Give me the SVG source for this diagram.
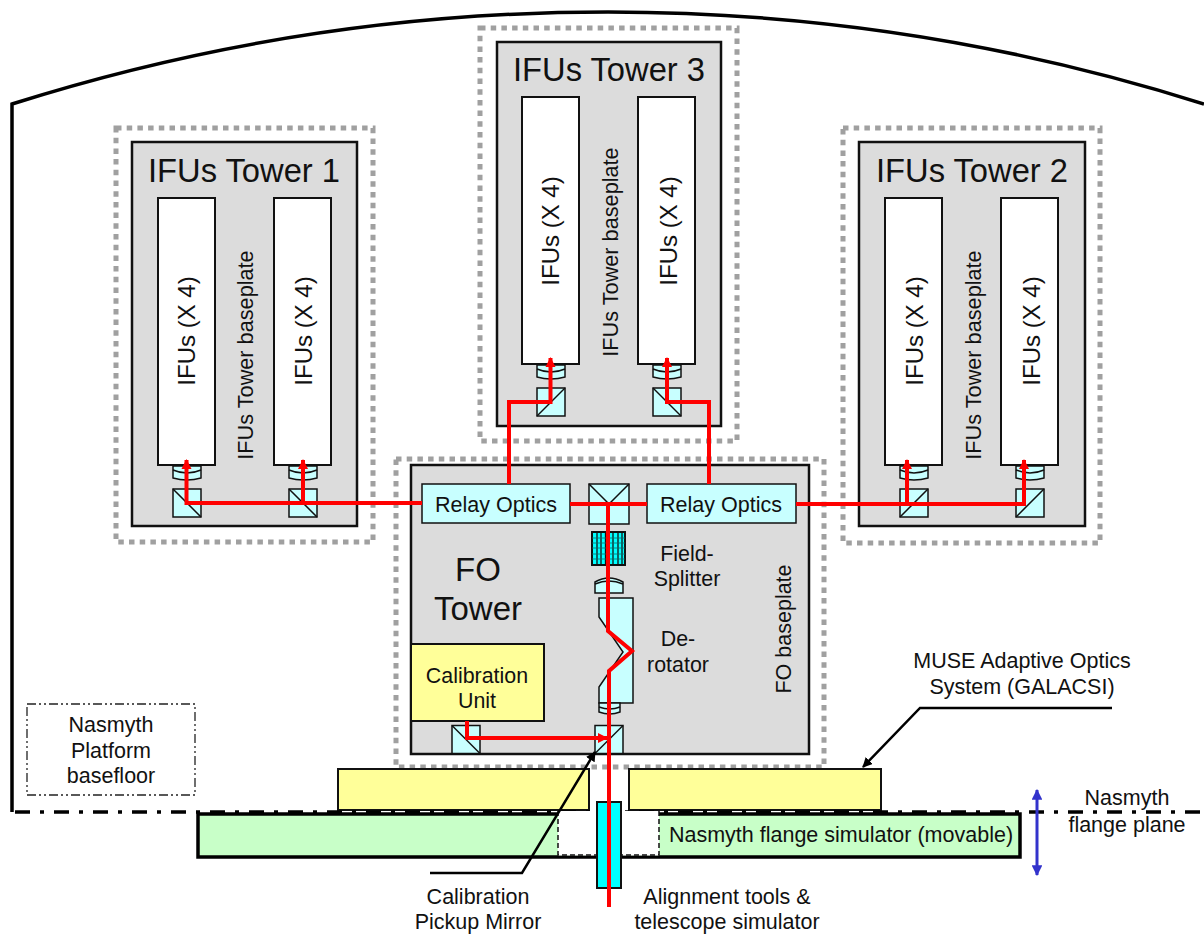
<svg xmlns="http://www.w3.org/2000/svg" width="1204" height="934" viewBox="0 0 1204 934">
<style>
text{font-family:"Liberation Sans",Arial,sans-serif;fill:#111;text-anchor:middle}
.dot{fill:none;stroke:#a0a0a0;stroke-width:5;stroke-dasharray:5.5 5.2}
.panel{fill:#dcdcdc;stroke:#111;stroke-width:2.5}
.ifu{fill:#fff;stroke:#111;stroke-width:2}
.cy{fill:#c8ffff;stroke:#111;stroke-width:1.5}
.yl{fill:#ffff99;stroke:#111;stroke-width:2}
.thin{fill:none;stroke:#111;stroke-width:1.5}
.r{fill:none;stroke:#f00;stroke-width:4}
.k{fill:none;stroke:#000;stroke-width:2.5}
.t31{font-size:32.700px}.t24{font-size:24px}.t22{font-size:21.700px}.t20{font-size:21.400px}.t21{font-size:21.500px}.t32{font-size:33px}
</style>
<defs>
<g id="lens"><path class="cy" d="M-14 0H14V12Q0 16-14 12Z"/><path class="thin" d="M-14 4Q0 10 14 4"/></g>
<g id="cubeA"><rect class="cy" x="-14" y="-14" width="28" height="28"/><path class="thin" d="M-14-14L14 14"/></g>
<g id="cubeB"><rect class="cy" x="-14" y="-14" width="28" height="28"/><path class="thin" d="M-14 14L14-14"/></g>
<marker id="ra" viewBox="0 0 10 10" refX="9" refY="5" markerWidth="2.600" markerHeight="3" orient="auto"><path d="M0 0L10 5L0 10Z" fill="#f00"/></marker>
<marker id="ka" viewBox="0 0 10 10" refX="9" refY="5" markerWidth="4" markerHeight="4" orient="auto"><path d="M0 0L10 5L0 10Z" fill="#000"/></marker>
<marker id="ba" viewBox="0 0 10 10" refX="9" refY="5" markerWidth="3.600" markerHeight="3.600" orient="auto-start-reverse"><path d="M0 0L10 5L0 10Z" fill="#3333cc"/></marker>
</defs>

<g id="enclosure">
<path d="M12 812V104A1976 1976 0 0 1 1204 104" fill="none" stroke="#000" stroke-width="3.500"/>
</g>

<g id="tower1">
<rect class="dot" x="116" y="128" width="257" height="414"/>
<rect class="panel" x="132" y="142" width="225" height="384"/>
<text class="t31" x="244" y="182">IFUs Tower 1</text>
<rect class="ifu" x="158" y="198" width="57" height="267"/>
<rect class="ifu" x="274" y="198" width="57" height="267"/>
<text class="t24" transform="translate(195 331) rotate(-90)">IFUs (X 4)</text>
<text class="t24" transform="translate(312 331) rotate(-90)">IFUs (X 4)</text>
<text class="t22" transform="translate(253 355) rotate(-90)">IFUs Tower baseplate</text>
<use href="#lens" x="187" y="466"/><use href="#lens" x="303" y="466"/>
<use href="#cubeA" x="187" y="503"/><use href="#cubeA" x="303" y="503"/>
</g>

<g id="tower3">
<rect class="dot" x="480" y="28" width="257" height="413"/>
<rect class="panel" x="497" y="42" width="224" height="384"/>
<text class="t31" x="609" y="81">IFUs Tower 3</text>
<rect class="ifu" x="522" y="97" width="57" height="267"/>
<rect class="ifu" x="638" y="97" width="57" height="267"/>
<text class="t24" transform="translate(559 231) rotate(-90)">IFUs (X 4)</text>
<text class="t24" transform="translate(677 231) rotate(-90)">IFUs (X 4)</text>
<text class="t22" transform="translate(618 252) rotate(-90)">IFUs Tower baseplate</text>
<use href="#lens" x="551" y="365"/><use href="#lens" x="667" y="365"/>
<use href="#cubeB" x="551" y="402"/><use href="#cubeA" x="667" y="402"/>
</g>

<g id="tower2">
<rect class="dot" x="843" y="128" width="257" height="415"/>
<rect class="panel" x="859" y="142" width="226" height="384"/>
<text class="t31" x="972" y="182">IFUs Tower 2</text>
<rect class="ifu" x="885" y="198" width="57" height="267"/>
<rect class="ifu" x="1001" y="198" width="57" height="267"/>
<text class="t24" transform="translate(923 331) rotate(-90)">IFUs (X 4)</text>
<text class="t24" transform="translate(1040 331) rotate(-90)">IFUs (X 4)</text>
<text class="t22" transform="translate(981 355) rotate(-90)">IFUs Tower baseplate</text>
<use href="#lens" x="914" y="466"/><use href="#lens" x="1030" y="466"/>
<use href="#cubeB" x="914" y="503"/><use href="#cubeB" x="1030" y="503"/>
</g>

<g id="fo-tower">
<rect class="dot" x="396" y="459" width="428" height="308"/>
<rect class="panel" x="411" y="465" width="398" height="289"/>
<text class="t32" x="478" y="581">FO</text>
<text class="t32" x="478" y="620">Tower</text>
<text class="t21" transform="translate(791 629) rotate(-90)">FO baseplate</text>
<text class="t20" x="687" y="561">Field-</text>
<text class="t20" x="687" y="586">Splitter</text>
<text class="t20" x="678" y="646">De-</text>
<text class="t20" x="678" y="672">rotator</text>
</g>

<g id="relay-left"><rect class="cy" x="422" y="484" width="148" height="39"/><text class="t21" x="496" y="512">Relay Optics</text></g>
<g id="relay-right"><rect class="cy" x="647" y="484" width="149" height="39"/><text class="t21" x="721" y="512">Relay Optics</text></g>
<g id="splitter-cube"><rect class="cy" x="589" y="484" width="40" height="40"/><path class="thin" d="M589 484L609 504L629 484"/></g>
<g id="field-splitter">
<rect x="592" y="532" width="33" height="33" fill="#0ff" stroke="#111" stroke-width="2"/>
<path d="M597 532V565M601 532V565M605.500 532V565M613 532V565M618 532V565M622 532V565" stroke="#111" stroke-width="1.300"/>
<path d="M592 538H625M592 543H625M592 548H625M592 554H625M592 559H625" stroke="#0a6a6a" stroke-width=".8"/>
</g>
<g id="fs-lens"><path class="cy" d="M595 593V582Q609 574 623 582V593Z"/><path class="thin" d="M595 584Q609 578 623 584"/></g>
<g id="derotator">
<path class="cy" d="M599 598H633V703H599V687L623 652L599 617Z"/>
<path class="cy" d="M599 703H620V712Q610 716 599 712Z"/>
<path class="thin" d="M599 707Q610 711 620 707"/>
</g>
<g id="calibration-unit"><rect class="yl" x="411" y="644" width="133" height="77"/>
<text class="t20" x="477" y="683">Calibration</text><text class="t20" x="477" y="708">Unit</text></g>
<use id="cal-cube" href="#cubeA" x="466" y="739.500"/>
<use id="pickup-cube" href="#cubeB" x="609" y="739.500"/>

<g id="gas-left"><rect class="yl" x="338" y="769" width="251" height="41"/></g>
<g id="gas-right"><rect class="yl" x="629" y="769" width="252" height="41"/></g>

<g id="flange-line"><path d="M15 812H1204" fill="none" stroke="#000" stroke-width="3.500" stroke-dasharray="15 10 4 10"/></g>
<g id="flange-simulator">
<rect x="198" y="814" width="822" height="43" fill="#c8ffc8" stroke="#000" stroke-width="3.500"/>
<rect x="558" y="811" width="101" height="44.500" fill="#fff" stroke="none"/>
<path d="M558 811V855H659V811" fill="none" stroke="#111" stroke-width="1.500" stroke-dasharray="5 3"/>
<text class="t21" x="841" y="842">Nasmyth flange simulator (movable)</text>
</g>
<g id="alignment-tube"><rect x="597" y="802" width="24" height="86" fill="#0ff" stroke="#111" stroke-width="2"/></g>

<g id="platform-basefloor">
<rect x="27" y="704" width="168" height="91" fill="none" stroke="#222" stroke-width="1.300" stroke-dasharray="9 3 2 3 2 3"/>
<text class="t21" x="111" y="732">Nasmyth</text><text class="t21" x="111" y="758">Platform</text><text class="t21" x="111" y="783">basefloor</text>
</g>

<g id="labels">
<text class="t21" x="1022" y="668">MUSE Adaptive Optics</text>
<text class="t21" x="1022" y="694">System (GALACSI)</text>
<text class="t21" x="1127" y="805">Nasmyth</text>
<text class="t21" x="1127" y="832">flange plane</text>
<text class="t21" x="478" y="904">Calibration</text>
<text class="t21" x="478" y="929">Pickup Mirror</text>
<text class="t21" x="727" y="904">Alignment tools &amp;</text>
<text class="t21" x="727" y="929">telescope simulator</text>
</g>

<g id="connectors">
<path class="r" d="M422 503H186.500V460" marker-end="url(#ra)"/>
<path class="r" d="M303 503V460" marker-end="url(#ra)"/>
<path class="r" d="M509 484V402H550.500V358" marker-end="url(#ra)"/>
<path class="r" d="M709 484V402H667V358" marker-end="url(#ra)"/>
<path class="r" d="M796 504H1024V460" marker-end="url(#ra)"/>
<path class="r" d="M907 504V460" marker-end="url(#ra)"/>
<path class="r" d="M570 504H647"/>
<path class="r" d="M609 907V671L632 651L608 631V504"/>
<path class="r" d="M467 721V738H607" marker-end="url(#ra)"/>
<path class="k" d="M430 873H522L595 752" marker-end="url(#ka)"/>
<path class="k" d="M1112 708H920L863 767" marker-end="url(#ka)"/>
<path d="M1037 790V875" fill="none" stroke="#3333cc" stroke-width="3" marker-start="url(#ba)" marker-end="url(#ba)"/>
</g>
</svg>
